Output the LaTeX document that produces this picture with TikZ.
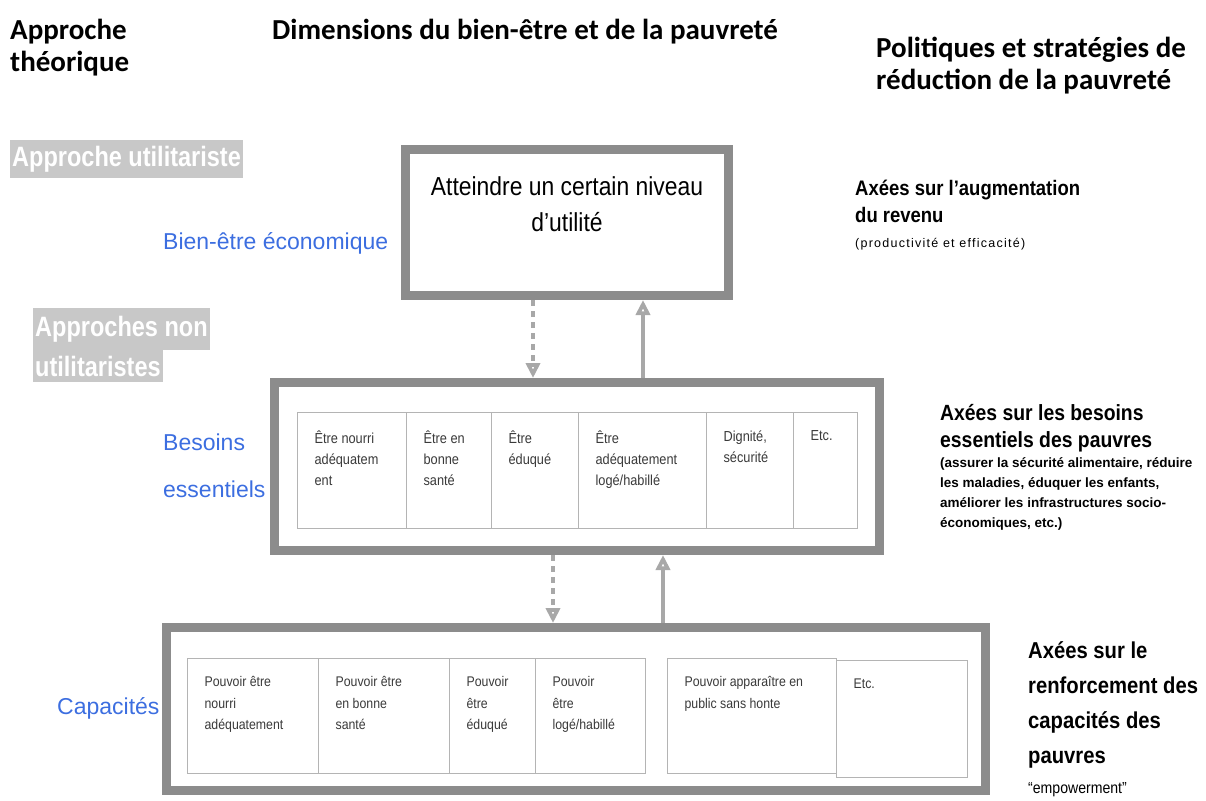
\documentclass[tikz,border=0pt]{standalone}
\usepackage{fontspec}
\setmainfont{Liberation Sans}
\newfontfamily\headfont{Carlito}
\newfontfamily\narrowfont[FakeStretch=0.88]{Liberation Sans}
\newfontfamily\tagfont[FakeStretch=0.84]{Liberation Sans}
\newfontfamily\spacedfont[LetterSpace=10]{Liberation Sans}
\usetikzlibrary{arrows.meta,calc}

\definecolor{boxgray}{HTML}{8C8C8C}
\definecolor{arrowgray}{HTML}{A8A8A8}
\definecolor{labelblue}{HTML}{3C6EE0}
\definecolor{tagbg}{HTML}{C8C8C8}
\definecolor{celltext}{HTML}{3A3A3A}
\definecolor{cellline}{HTML}{B4B4B4}

% body of one table cell: width, text
\newcommand{\cellbody}[2]{\parbox[t][\cellh][t]{\dimexpr#1pt-34pt\relax}{\raggedright #2}}
\newlength{\cellh}

\tikzset{
  bigbox/.style={draw=boxgray, line width=9pt, fill=white, inner sep=0},
  cellbox/.style={draw=cellline, line width=1.2pt, anchor=north west,
    inner xsep=17pt, inner ysep=18pt, text=celltext},
  heading/.style={font=\headfont\bfseries\fontsize{29}{32}\selectfont,
    anchor=north west, align=left, inner sep=0},
  tagbox/.style={fill=tagbg, text=white, font=\tagfont\bfseries\fontsize{28}{30}\selectfont,
    inner xsep=2pt, inner ysep=0, anchor=west},
  dimlabel/.style={text=labelblue, font=\fontsize{23}{47}\selectfont, align=left,
    inner sep=0, anchor=west},
  policy/.style={font=\narrowfont\bfseries\fontsize{22}{27}\selectfont, align=flush left,
    anchor=north west, inner sep=0},
  uparrow/.style={draw=arrowgray, line width=4pt,
    -{Triangle[open, length=15pt, width=14pt]}},
  downarrow/.style={uparrow, dash pattern=on 6pt off 5pt},
}

\begin{document}
\begin{tikzpicture}[x=1pt, y=-1pt]
  \useasboundingbox (0,0) rectangle (1206,800);

  %% column headings
  \node[heading] (hApproche) at (10,19) {Approche\\théorique};
  \node[heading] (hDim) at (272,19) {Dimensions du bien-être et de la pauvreté};
  \node[heading] (hPol) at (876,37) {Politiques et stratégies de\\réduction de la pauvreté};

  %% theoretical approaches, grey tags
  \node[tagbox, minimum height=38pt] (tUtil) at (10,159) {Approche utilitariste};
  \node[tagbox, minimum height=42pt] (tNon) at (33,329) {Approches non};
  \node[tagbox, minimum height=32pt] (tNon2) at (33,366) {utilitaristes};

  %% dimensions, blue labels
  \node[dimlabel] (lEco) at (163,243) {Bien-être économique};
  \node[dimlabel] (lBes) at (163,466) {Besoins\\essentiels};
  \node[dimlabel] (lCap) at (57,708) {Capacités};

  %% the three frames
  \node[bigbox, minimum width=323pt, minimum height=146pt] (util) at (567,222.5)
    {\parbox[c][92pt][t]{320pt}{\centering\narrowfont\fontsize{26}{36}\selectfont
      Atteindre un certain niveau\\d’utilité}};
  \node[bigbox, minimum width=605pt, minimum height=168pt] (besoins) at (577,466.5) {};
  \node[bigbox, minimum width=819pt, minimum height=163pt] (capac) at (576,709) {};

  %% basic needs cells
  \setlength{\cellh}{80pt}
  \foreach \x/\w/\t [count=\i] in {
      297/109/{Être nourri\\adéquatem\\ent},
      406/85/{Être en\\bonne\\santé},
      491/87/{Être\\éduqué},
      578/128/{Être\\adéquatement\\logé/habillé},
      706/87/{Dignité,\\sécurité},
      793/64/{Etc.}}{
    \node[cellbox, font=\narrowfont\fontsize{14.5}{21}\selectfont] (need\i) at (\x,412)
      {\cellbody{\w}{\t}};
  }

  %% capability cells
  \setlength{\cellh}{79pt}
  \foreach \x/\w/\t [count=\i] in {
      187/131/{Pouvoir être\\nourri\\adéquatement},
      318/131/{Pouvoir être\\en bonne\\santé},
      449/86/{Pouvoir\\être\\éduqué},
      535/110/{Pouvoir\\être\\logé/habillé},
      667/169/{Pouvoir apparaître en\\public sans honte}}{
    \node[cellbox, font=\narrowfont\fontsize{14}{21.5}\selectfont] (cap\i) at (\x,658)
      {\cellbody{\w}{\t}};
  }
  \setlength{\cellh}{81pt}
  \node[cellbox, font=\narrowfont\fontsize{14}{21.5}\selectfont] (cap6) at (836,660)
    {\cellbody{131}{Etc.}};

  %% arrows between the frames
  \coordinate (d1) at (533,0);
  \coordinate (u1) at (643,0);
  \coordinate (d2) at (553,0);
  \coordinate (u2) at (663,0);
  \draw[downarrow] (util.south -| d1) -- (besoins.north -| d1);
  \draw[uparrow] (besoins.north -| u1) -- (util.south -| u1);
  \draw[downarrow] (besoins.south -| d2) -- (capac.north -| d2);
  \draw[uparrow] (capac.north -| u2) -- (besoins.south -| u2);

  %% policies
  \node[policy, text width=300pt, font=\narrowfont\bfseries\fontsize{21}{27}\selectfont]
    (pIncome) at (855,180)
    {Axées sur l’augmentation\\du revenu\par
     {\spacedfont\mdseries\fontsize{12.5}{25}\selectfont (productivité et efficacité)\par}};
  \node[policy, text width=266pt] (pNeeds) at (940,404)
    {Axées sur les besoins\\essentiels des pauvres\par
     {\normalfont\bfseries\fontsize{13.5}{20}\selectfont (assurer la sécurité alimentaire, réduire\\
      les maladies, éduquer les enfants,\\
      améliorer les infrastructures socio-\\économiques, etc.)\par}};
  \node[policy, text width=178pt, font=\narrowfont\bfseries\fontsize{23}{35}\selectfont]
    (pCap) at (1028,641)
    {Axées sur le\\renforcement des\\capacités des\\pauvres\par
     {\fontsize{16}{30}\selectfont\mdseries “empowerment”\par}};
\end{tikzpicture}
\end{document}
